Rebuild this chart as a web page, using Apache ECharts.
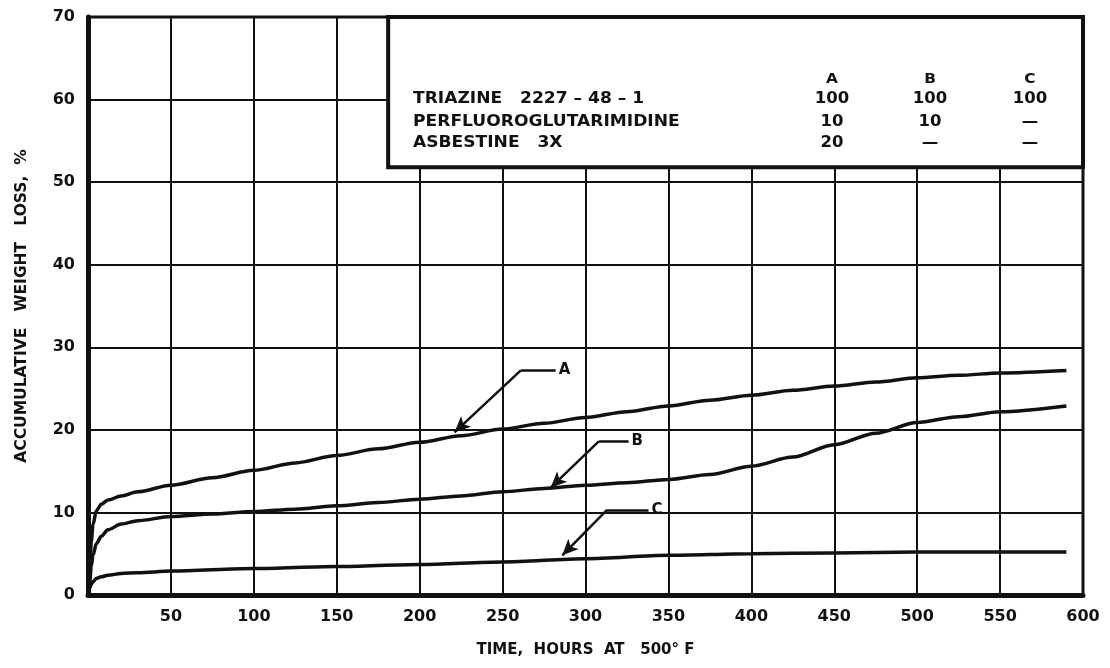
<!DOCTYPE html>
<html>
<head>
<meta charset="utf-8">
<script src="https://cdn.jsdelivr.net/npm/echarts@6/dist/echarts.min.js"></script>
<style>
  html, body { margin: 0; padding: 0; background: #fff; }
  #chart { width: 1110px; height: 668px; }
</style>
</head>
<body>
<div id="chart"></div>
<script>
// curve A
var timeA = [0, 1, 2, 3, 5, 8, 12, 20, 30, 50, 75, 100, 125, 150, 175, 200, 225, 250, 275, 300, 325, 350, 375, 400, 425, 450, 475, 500, 525, 550, 590];
var lossA = [0, 3, 6.5, 8.5, 10.2, 11, 11.5, 12, 12.5, 13.3, 14.2, 15.1, 16, 16.9, 17.7, 18.5, 19.3, 20.1, 20.8, 21.5, 22.2, 22.9, 23.6, 24.2, 24.8, 25.3, 25.8, 26.3, 26.6, 26.9, 27.2];
// curve B
var timeB = [0, 1, 2, 3, 5, 8, 12, 20, 30, 50, 75, 100, 125, 150, 175, 200, 225, 250, 275, 300, 325, 350, 375, 400, 425, 450, 475, 500, 525, 550, 590];
var lossB = [0, 1.5, 3.5, 4.8, 6.2, 7.1, 7.9, 8.6, 9.0, 9.5, 9.8, 10.1, 10.4, 10.8, 11.2, 11.6, 12.0, 12.5, 12.9, 13.3, 13.6, 14.0, 14.6, 15.6, 16.7, 18.2, 19.6, 20.9, 21.6, 22.2, 22.9];
// curve C
var timeC = [0, 1, 2, 3, 5, 8, 12, 20, 30, 50, 100, 150, 200, 250, 300, 350, 400, 450, 500, 550, 590];
var lossC = [0, 0.8, 1.3, 1.6, 2.0, 2.2, 2.4, 2.6, 2.7, 2.9, 3.2, 3.45, 3.7, 4.0, 4.4, 4.8, 5.0, 5.1, 5.2, 5.2, 5.2];

// leader lines: tip, elbow, end
var ptrA = [[221, 19.7], [261, 27.2], [282, 27.2]];
var ptrB = [[279, 13.0], [308, 18.6], [326, 18.6]];
var ptrC = [[286, 4.8], [313, 10.3], [338, 10.3]];

var xTicks = [50, 100, 150, 200, 250, 300, 350, 400, 450, 500, 550, 600];
var yTicks = [0, 10, 20, 30, 40, 50, 60, 70];

// composition table
var tableCols = ['A', 'B', 'C'];
var tableRows = ['TRIAZINE   2227 – 48 – 1', 'PERFLUOROGLUTARIMIDINE', 'ASBESTINE   3X'];
var tableVals = [['100', '100', '100'], ['10', '10', '—'], ['20', '—', '—']];
var boxCorner = [[181, 51.8], [600, 70]];

var font = '"DejaVu Sans", sans-serif';
var ink = '#111';

function pairs(xs, ys) {
    return xs.map(function(x, i) { return [x, ys[i]]; });
}

function pointer(p, name) {
    return {
        type: 'line',
        data: [],
        markLine: {
            silent: true,
            symbolSize: [11, 16],
            lineStyle: { color: ink, width: 2.5, type: 'solid' },
            data: [
                [{ coord: p[1], symbol: 'none' }, { coord: p[0], symbol: 'arrow' }],
                [{ coord: p[1], symbol: 'none' }, {
                    coord: p[2], symbol: 'none',
                    label: { show: true, position: 'end', formatter: name, distance: 3,
                        color: ink, fontFamily: font, fontWeight: 'bold', fontSize: 15 }
                }]
            ],
            label: { show: false }
        }
    };
}

var chart = echarts.init(document.getElementById('chart'));

// the lettering in the box is wide, so stretch it a little
var colX = [832, 930, 1030];
var rowY = [99, 122, 143];
var graphics = [];
tableCols.forEach(function(c, j) {
    graphics.push({ type: 'text', z: 100, x: colX[j], y: 79, scaleX: 1.1, style: { text: c, fill: ink,
        font: 'bold 14px ' + font, textAlign: 'center', textVerticalAlign: 'middle' } });
});
tableRows.forEach(function(r, i) {
    graphics.push({ type: 'text', z: 100, x: 413, y: rowY[i], scaleX: 1.14, style: { text: r, fill: ink,
        font: 'bold 15px ' + font, textAlign: 'left', textVerticalAlign: 'middle' } });
    tableVals[i].forEach(function(v, j) {
        graphics.push({ type: 'text', z: 100, x: colX[j], y: rowY[i], scaleX: 1.1, style: { text: v, fill: ink,
            font: 'bold 15px ' + font, textAlign: 'center', textVerticalAlign: 'middle' } });
    });
});

var curveStyle = { color: ink, width: 3.5 };

var option = {
    animation: false,
    backgroundColor: '#fff',
    grid: { left: 88, right: 27, top: 17, bottom: 73, show: true,
        borderColor: ink, borderWidth: 3, backgroundColor: 'transparent' },
    xAxis: {
        type: 'value', min: 0, max: 600, interval: 50,
        name: 'TIME,  HOURS  AT   500° F', nameLocation: 'middle', nameGap: 48,
        nameTextStyle: { color: ink, fontFamily: font, fontWeight: 'bold', fontSize: 15 },
        axisLine: { show: true, lineStyle: { color: ink, width: 5 } },
        axisTick: { show: false },
        splitLine: { show: true, lineStyle: { color: ink, width: 2 } },
        axisLabel: { color: ink, fontFamily: font, fontWeight: 'bold', fontSize: 16, margin: 14,
            formatter: function(v) { return xTicks.indexOf(v) >= 0 ? String(v) : ''; } }
    },
    yAxis: {
        type: 'value', min: 0, max: 70, interval: 10,
        name: 'ACCUMULATIVE   WEIGHT   LOSS,  %', nameLocation: 'middle', nameGap: 58,
        nameTextStyle: { color: ink, fontFamily: font, fontWeight: 'bold', fontSize: 15.5 },
        axisLine: { show: true, lineStyle: { color: ink, width: 5 } },
        axisTick: { show: false },
        splitLine: { show: true, lineStyle: { color: ink, width: 2 } },
        axisLabel: { color: ink, fontFamily: font, fontWeight: 'bold', fontSize: 16, margin: 13,
            formatter: function(v) { return yTicks.indexOf(v) >= 0 ? String(v) : ''; } }
    },
    graphic: graphics,
    series: [
        { name: 'A', type: 'line', data: pairs(timeA, lossA), showSymbol: false, smooth: 0.3,
            smoothMonotone: 'x', lineStyle: curveStyle,
            markArea: { silent: true,
                itemStyle: { color: '#fff', borderColor: ink, borderWidth: 4 },
                data: [[{ coord: boxCorner[0] }, { coord: boxCorner[1] }]] } },
        { name: 'B', type: 'line', data: pairs(timeB, lossB), showSymbol: false, smooth: 0.3,
            smoothMonotone: 'x', lineStyle: curveStyle },
        { name: 'C', type: 'line', data: pairs(timeC, lossC), showSymbol: false, smooth: 0.3,
            smoothMonotone: 'x', lineStyle: curveStyle },
        pointer(ptrA, 'A'),
        pointer(ptrB, 'B'),
        pointer(ptrC, 'C')
    ]
};

chart.setOption(option);
</script>
</body>
</html>
